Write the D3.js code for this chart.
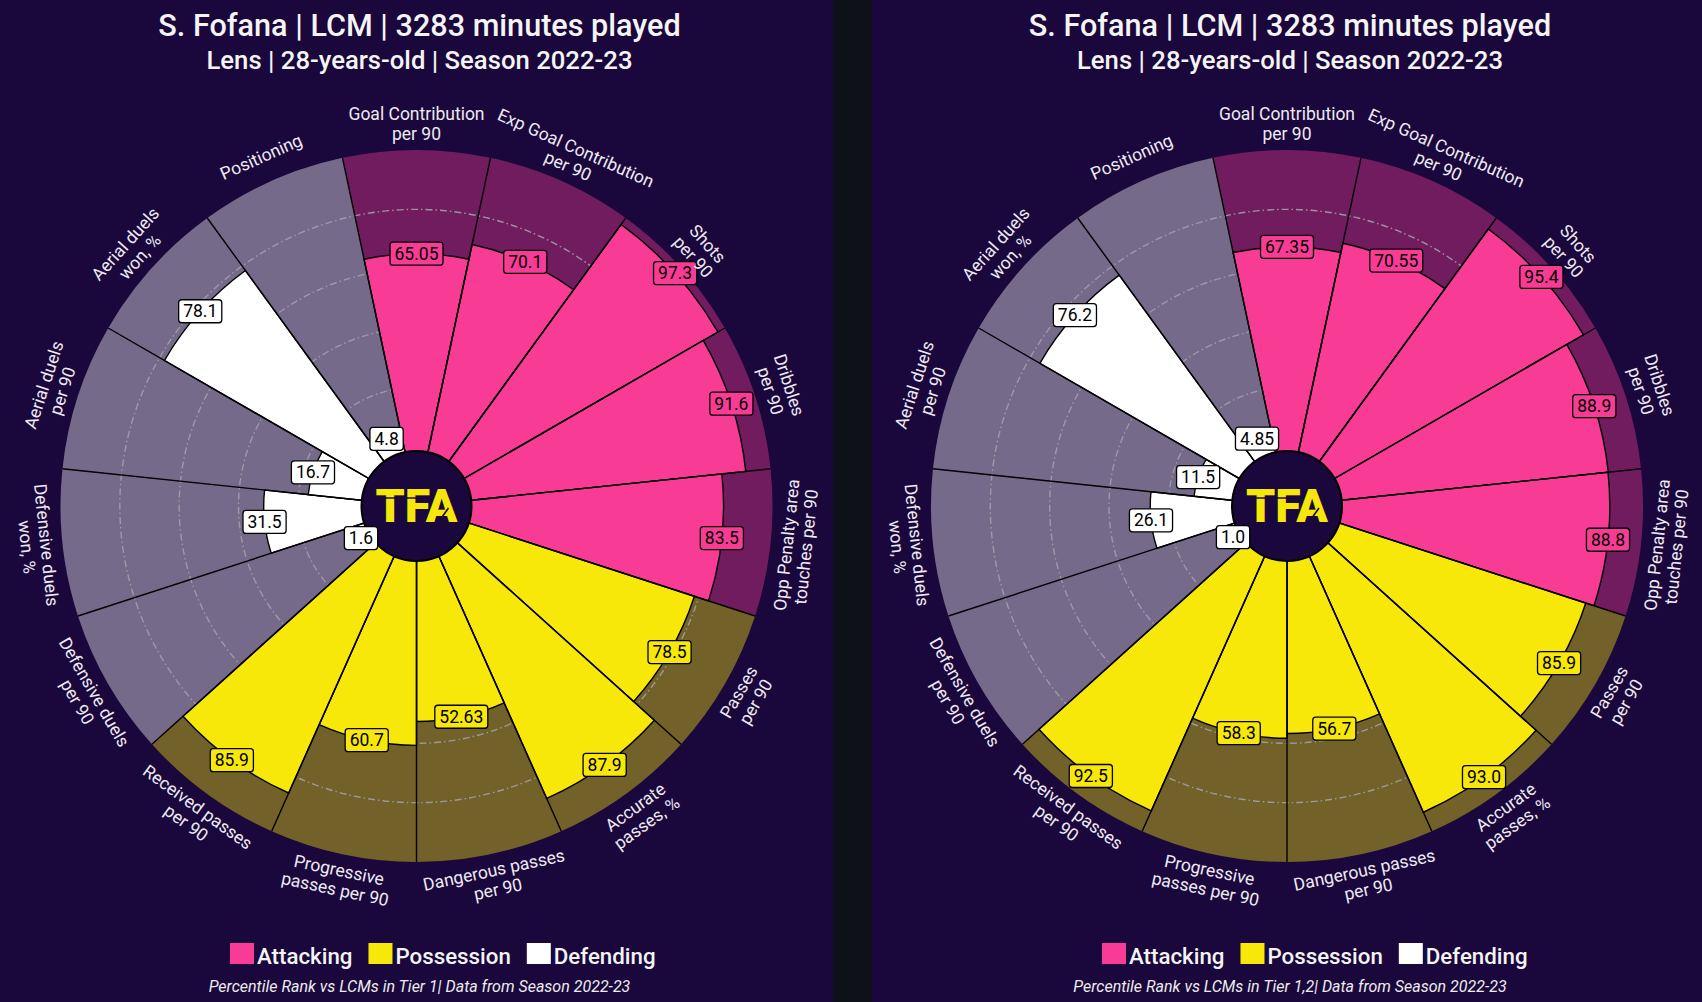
<!DOCTYPE html>
<html><head><meta charset="utf-8">
<script src="https://cdn.jsdelivr.net/npm/d3@7"></script>
<style>
html,body{margin:0;padding:0;background:#0e1117;}
svg{display:block;}
text{font-family:Roboto,"Noto Sans",sans-serif;}
</style></head>
<body>
<svg id="chart" width="1702" height="1002"></svg>
<script>
// ---------------- data ----------------
const params = [
  "Goal Contribution\nper 90", "Exp Goal Contribution\nper 90", "Shots\nper 90", "Dribbles\nper 90",
  "Opp Penalty area\ntouches per 90", "Passes\nper 90", "Accurate\npasses, %", "Dangerous passes\nper 90",
  "Progressive\npasses per 90", "Received passes\nper 90", "Defensive duels\nper 90", "Defensive duels\nwon, %",
  "Aerial duels\nper 90", "Aerial duels\nwon, %", "Positioning"
];
const groups = ["Attacking","Attacking","Attacking","Attacking","Attacking",
  "Possession","Possession","Possession","Possession","Possession",
  "Defending","Defending","Defending","Defending","Defending"];
const legendItems = ["Attacking","Possession","Defending"];

const leftValues = [65.05, 70.1, 97.3, 91.6, 83.5, 78.5, 87.9, 52.63, 60.7, 85.9, 1.6, 31.5, 16.7, 78.1, 4.8];
const leftLabels = ["65.05","70.1","97.3","91.6","83.5","78.5","87.9","52.63","60.7","85.9","1.6","31.5","16.7","78.1","4.8"];
const rightValues = [67.35, 70.55, 95.4, 88.9, 88.8, 85.9, 93.0, 56.7, 58.3, 92.5, 1.0, 26.1, 11.5, 76.2, 4.85];
const rightLabels = ["67.35","70.55","95.4","88.9","88.8","85.9","93.0","56.7","58.3","92.5","1.0","26.1","11.5","76.2","4.85"];

const gridValues = [20, 40, 60, 80];
const titleText = "S. Fofana | LCM | 3283 minutes played";
const subtitleText = "Lens | 28-years-old | Season 2022-23";
const leftFooter = "Percentile Rank vs LCMs in Tier 1| Data from Season 2022-23";
const rightFooter = "Percentile Rank vs LCMs in Tier 1,2| Data from Season 2022-23";

// ---------------- style ----------------
const BG = "#1a073c";
const colors = {Attacking:"#f83c96", Possession:"#f7e80a", Defending:"#ffffff"};
const R = 356, CY = 506, LABEL_R = 382;

const svg = d3.select("#chart");
svg.append("rect").attr("width",1702).attr("height",1002).attr("fill","#0e1117");

const panels = [
  {x:0, w:833, values:leftValues, labels:leftLabels, footer:leftFooter},
  {x:872, w:830, values:rightValues, labels:rightLabels, footer:rightFooter}
];

const rScale = d3.scaleLinear().domain([-20, 100]).range([0, R]);
const aScale = d3.scaleLinear().domain([0, params.length]).range([0, 2*Math.PI]);
const half = Math.PI / params.length;
const arc = d3.arc();

panels.forEach(p => {
  const g = svg.append("g");
  g.append("rect").attr("x",p.x).attr("y",0).attr("width",p.w).attr("height",1002).attr("fill",BG);
  const cx = p.x + p.w/2;
  const pz = g.append("g").attr("transform",`translate(${cx},${CY})`);

  // background slices
  pz.selectAll("path.bg").data(p.values).join("path").attr("class","bg")
    .attr("d",(d,i)=>arc({innerRadius:0, outerRadius:rScale(100), startAngle:aScale(i)-half, endAngle:aScale(i)+half}))
    .attr("fill",(d,i)=>colors[groups[i]]).attr("fill-opacity",0.4);

  // grid rings
  pz.selectAll("circle.grid").data(gridValues).join("circle").attr("class","grid")
    .attr("r",d=>rScale(d)).attr("fill","none").attr("stroke","#a0a0aa").attr("stroke-width",1.4)
    .attr("stroke-dasharray","7,3,1.5,3").attr("opacity",0.9);

  // value slices
  pz.selectAll("path.val").data(p.values).join("path").attr("class","val")
    .attr("d",(d,i)=>arc({innerRadius:0, outerRadius:rScale(d), startAngle:aScale(i)-half, endAngle:aScale(i)+half}))
    .attr("fill",(d,i)=>colors[groups[i]]).attr("stroke","#000").attr("stroke-width",1.4);

  // radial lines
  pz.selectAll("line.rad").data(p.values).join("line").attr("class","rad")
    .attr("x1",0).attr("y1",0)
    .attr("x2",(d,i)=>rScale(100)*Math.sin(aScale(i)-half))
    .attr("y2",(d,i)=>-rScale(100)*Math.cos(aScale(i)-half))
    .attr("stroke","#000").attr("stroke-width",1.4);

  // logo
  pz.append("circle").attr("r",55).attr("fill",BG).attr("stroke","#000").attr("stroke-width",2);
  pz.append("text").attr("x",0).attr("y",16).attr("text-anchor","middle")
    .attr("font-size",46).attr("font-weight",900).attr("fill","#f5e70a")
    .attr("textLength",82).attr("lengthAdjust","spacingAndGlyphs").text("TFA");
  // stencil cuts
  pz.append("line").attr("x1",-42).attr("x2",12).attr("y1",-8).attr("y2",-8)
    .attr("stroke",BG).attr("stroke-width",1.6);
  pz.append("line").attr("x1",22).attr("x2",32).attr("y1",16).attr("y2",2)
    .attr("stroke",BG).attr("stroke-width",1.6);

  // value labels
  p.values.forEach((v,i) => {
    const a = aScale(i), r = rScale(v);
    const x = r*Math.sin(a), y = -r*Math.cos(a);
    const lg = pz.append("g").attr("transform",`translate(${x},${y})`);
    const rect = lg.append("rect");
    const t = lg.append("text").attr("text-anchor","middle").attr("dominant-baseline","central")
      .attr("font-size",17.5).attr("fill","#000").text(p.labels[i]);
    const w = t.node().getComputedTextLength();
    rect.attr("x",-w/2-4.5).attr("y",-11.5).attr("width",w+9).attr("height",23).attr("rx",3)
      .attr("fill",colors[groups[i]]).attr("stroke","#000").attr("stroke-width",1.3);
  });

  // parameter labels
  params.forEach((lab,i) => {
    const deg = i*360/params.length;
    const a = aScale(i), r = LABEL_R;
    const x = r*Math.sin(a), y = -r*Math.cos(a);
    let rot = deg;
    if (deg > 90 && deg < 270) rot = deg - 180;
    else if (deg >= 270) rot = deg - 360;
    const lines = lab.split("\n");
    const lh = 19.5;
    const t = pz.append("text").attr("transform",`translate(${x},${y}) rotate(${rot})`)
      .attr("text-anchor","middle").attr("font-size",17.5).attr("fill","#eeeaf2");
    lines.forEach((ln,k)=>{
      t.append("tspan").attr("x",0).attr("y",(k-(lines.length-1)/2)*lh).attr("dominant-baseline","central").text(ln);
    });
  });

  // titles
  g.append("text").attr("x",cx+3).attr("y",36).attr("text-anchor","middle").attr("font-size",30.6)
    .attr("font-weight",500).attr("fill","#f4f4f4").text(titleText);
  g.append("text").attr("x",cx+3).attr("y",68.5).attr("text-anchor","middle").attr("font-size",25.7)
    .attr("font-weight",500).attr("fill","#f4f4f4").text(subtitleText);

  // legend
  let lx = p.x + 230;
  legendItems.forEach(name => {
    g.append("rect").attr("x",lx).attr("y",943).attr("width",24).attr("height",21)
      .attr("fill",colors[name]);
    const t = g.append("text").attr("x",lx+27).attr("y",964).attr("font-size",22.3).attr("font-weight",500)
      .attr("fill","#f4f4f4").text(name);
    lx += 27 + t.node().getComputedTextLength() + 16;
  });

  // footer
  g.append("text").attr("x",cx+3).attr("y",992).attr("text-anchor","middle").attr("font-size",16)
    .attr("font-style","italic").attr("fill","#ececec").text(p.footer);
});
</script>
</body></html>
